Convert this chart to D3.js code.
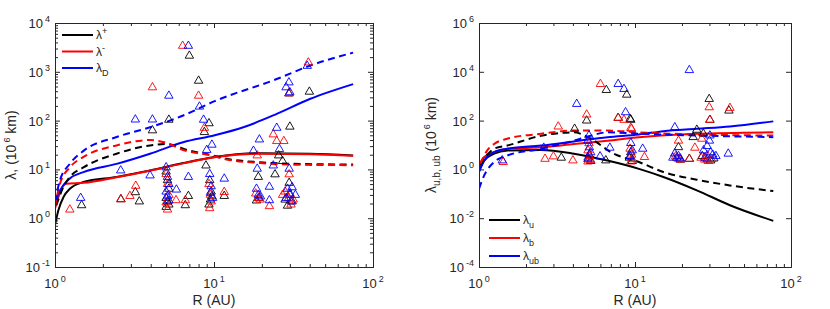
<!DOCTYPE html>
<meta charset="utf-8">
<script src="https://d3js.org/d3.v7.min.js"></script>
<style>
  body { margin: 0; background: #fff; }
  svg { font-family: "Liberation Sans", Arial, sans-serif; }
</style>
<div id="chart"></div>
<script>

// ---- left panel curves: [R (AU), lambda (10^6 km)]
const lamPlus = [[1,0.72],[1.05,1.46],[1.13,2.7],[1.24,4.0],[1.51,5.5],[2.44,7.0],[3.96,9.5],[6.4,13.5],[10.1,18],[19.5,21.5],[40,21],[75,19.3]];
const lamMinus = [[1,1.57],[1.075,3.4],[1.18,5.1],[1.51,5.3],[2.44,6.9],[3.96,9.4],[6.4,13.3],[10.1,17.8],[19.5,21],[40,20.5],[75,19]];
const lamD = [[1,2.0],[1.075,3.7],[1.24,6.5],[1.51,8.8],[2.44,13],[3.96,21],[6.4,36],[10.1,50],[15.3,73],[24.8,137],[40,277],[75,560]];
const lamPlusDash = [[1.02,1.84],[1.13,4.4],[1.24,7],[1.51,11],[2.44,21],[3.96,31],[5.0,33],[7.1,24],[9.4,20],[12,16.5],[19.5,14],[31.5,13],[75,12.6]];
const lamMinusDash = [[1,1.7],[1.075,5.1],[1.24,11],[1.51,18],[2.44,31],[3.96,40],[5.0,35],[6.4,25],[9.4,19.5],[12,16],[19.5,13.5],[31.5,12.5],[75,12.2]];
const lamDDash = [[1,2.15],[1.075,6],[1.24,13],[1.51,24],[2.44,46],[3.96,73],[6.4,127],[10.1,250],[24.8,710],[40,1330],[75,2470]];

// ---- right panel curves
const lamU = [[1,0.9],[1.08,2.3],[1.25,4.4],[1.52,6],[2.5,6.3],[4.06,4.4],[6.65,2.3],[10.6,1.05],[15.2,0.49],[24.9,0.139],[40.6,0.034],[77,0.0078]];
const lamB = [[1,1.46],[1.08,3.2],[1.25,5.1],[1.52,7],[2.5,8.1],[4.06,11],[6.65,15],[10.6,21],[24.9,29],[77,33]];
const lamUB = [[1,0.78],[1.08,2.3],[1.25,5.1],[1.52,7],[2.5,9.5],[4.06,14],[6.65,21],[10.6,27],[15.2,37],[24.9,46],[40.6,57],[77,93]];
const lamUDash = [[1.02,1.5],[1.13,4],[1.25,7],[1.52,9.5],[2.5,24],[4.06,33],[5.2,18],[7.3,4.4],[10.6,2.0],[15.2,0.78],[24.9,0.38],[40.6,0.22],[77,0.13]];
const lamBDash = [[1.02,1.7],[1.13,6],[1.25,11],[1.52,18],[2.5,29],[4.06,39],[6.65,39],[10.6,33],[24.9,27],[77,24.5]];
const lamUBDash = [[1,0.16],[1.08,0.57],[1.25,2],[1.52,3.7],[2.5,7],[4.06,15],[5.2,24],[6.65,33],[10.6,29],[24.9,24.5],[77,21]];

// ---- triangle markers, left panel
const leftBlack = [[7.0,2130],[8.0,655],[5.2,104],[4.1,63],[9.3,88],[8.7,58],[8.9,12],[1.47,1.84],[2.6,2.44],[3.2,3.4],[3.39,2.2],[6.9,2.85],[6.6,1.84],
  [5.0,9],[5.1,6],[5.2,4],[5.0,2.6],[5.1,2.2],[5.2,1.9],[5.0,1.7],[9.4,6],[9.6,3.5],[9.5,2.4],[9.3,1.9],[9.7,2.8],
  [29.6,360],[39.8,390],[30,75],[25.5,19.3],[27,14.8],[24.2,7.9],[19,7],[11.6,2.85],[29.7,5.3],[18.5,2.3],[19.2,2.6],[28,2.4],[30,3],[31,2.2],[29,1.8]];
const leftRed = [[6.35,3400],[4.1,480],[8.0,323],[8.7,71],[1.24,1.5],[2.59,2.44],[2.96,2.85],[3.22,4.6],[5.77,2.33],[6.6,2.33],
  [39.2,1550],[29.6,360],[23.6,52],[24.8,38],[27.5,38],[18.7,19.3],[29.7,7.9],[11.6,3.44],[22.3,1.76],
  [5.0,8],[5.1,5],[5.2,3],[5.0,2.1],[5.1,1.5],[9.3,5],[9.5,3],[9.6,2.2],[9.4,1.6],[18.3,3.2],[19,2.6],[19.5,2.4],
  [28,3.5],[29.5,2.6],[30.5,1.9],[31.5,2.4],[27,3]];
const leftBlue = [[6.9,3400],[5.2,323],[8.1,193],[3.2,105],[4.1,105],[8.6,104],[9.7,32],[9.0,25],[2.59,9.5],[3.96,7.5],[6.9,7.0],[1.45,2.6],[5.8,3.85],
  [38.6,1320],[29.6,605],[28.4,480],[30,380],[24.8,71],[19.3,41],[17.7,24],[25.8,26],[23.6,12],[29.7,10.3],[18.7,10.3],[11.6,6.45],[22.3,4.4],[22.3,2.33],
  [5.0,11],[5.1,7],[5.2,5],[5.0,3.5],[5.1,2.8],[5.2,2.3],[9.4,8],[9.6,4.5],[9.5,3.3],[9.8,2.6],[18.5,4],[19,3],[19.6,2.8],
  [29,4],[30,3.2],[31,4.3],[32.5,3],[28.5,2.6],[30.5,2.2]];

// ---- triangle markers, right panel
const rightBlack = [[6.55,1790],[8.85,1150],[4.9,100],[7.8,129],[9.4,107],[4.1,46],[3.37,3.0],[6.5,2.33],[29.9,767],[40,256],[30.2,107],[9.3,117],
  [24.9,42],[27.4,29],[23.6,21],[19,8.1],[5.1,4],[5.0,2.6],[5.2,2.2],[9.4,5],[9.2,3],[9.6,2.2],[18.5,3],[19.5,2.5],[22.3,2.7],
  [27,3.5],[29,2.6],[30.5,2.3],[32,2.8]];
const rightRed = [[6.0,3150],[4.9,176],[7.8,129],[8.5,107],[3.22,57],[9.4,50],[5.07,11.8],[2.65,2.7],[3.0,3.4],[4.0,2.33],[1.43,2.0],
  [29.9,350],[40.6,330],[30.2,107],[9.5,46],[26.8,18],[24.2,7.7],[19,15],[11.5,3.2],[22.3,2.7],
  [5.0,6],[5.1,3.5],[5.2,2.4],[5.0,2.1],[9.3,7],[9.5,4],[9.6,2.6],[9.4,2.1],[18.2,3.4],[19,2.7],[19.6,2.5],
  [26.5,3],[28,2.5],[29.5,2.2],[31,2.6],[29,3.8]];
const rightBlue = [[7.8,3150],[8.5,1970],[4.23,480],[8.7,219],[5.07,24.5],[6.9,7.7],[2.6,7.7],[1.41,2.33],[5.97,3.4],
  [22.3,11700],[18,53],[30.2,24.5],[11.2,7],[39.6,4.4],[5.0,15],[5.1,8],[5.2,5],[5.0,3],[9.4,12],[9.6,6],[9.3,3.5],
  [18,4.5],[19,3.5],[19.5,2.8],[17.5,3],[27.5,6],[29,9],[30,15],[30.5,5],[31.5,4],[33,3.5],[28,3]];

const xMajors = [0, 1, 2];
const leftYMajors = [-1, 0, 1, 2, 3, 4];
const rightYMajors = [-4, -2, 0, 2, 4, 6];

const svg = d3.select("#chart").append("svg")
    .attr("width", 830)
    .attr("height", 309);

function minorTicks(lo, hi) {
  const out = [];
  for (let e = lo; e < hi; e++)
    for (let k = 2; k <= 9; k++) out.push(k * Math.pow(10, e));
  return out;
}

function pow10(text, e) {
  text.append("tspan").text("10");
  text.append("tspan").attr("dx", 2).attr("dy", -6).attr("font-size", 9).text(e);
}

function drawPanel(cfg) {
  const w = cfg.x1 - cfg.x0, h = cfg.y1 - cfg.y0;
  const g = svg.append("g").attr("transform", `translate(${cfg.x0},${cfg.y0})`);

  const x = d3.scaleLog().domain([1, 100]).range([0, w]);
  const y = d3.scaleLog().domain(cfg.yDomain).range([h, 0]);

  const clipId = "clip" + cfg.id;
  g.append("clipPath").attr("id", clipId)
    .append("rect").attr("width", w).attr("height", h);

  // curves
  const line = d3.line()
      .x(d => x(d[0]))
      .y(d => y(d[1]))
      .curve(d3.curveMonotoneX);
  const plot = g.append("g").attr("clip-path", `url(#${clipId})`);
  cfg.curves.forEach(c => {
    plot.append("path")
      .attr("d", line(c.data))
      .attr("fill", "none")
      .attr("stroke", c.color)
      .attr("stroke-width", 2)
      .attr("stroke-dasharray", c.dash ? "7,4.5" : null);
  });

  // markers
  const tri = d3.symbol().type(d3.symbolTriangle).size(31);
  cfg.marks.forEach(m => {
    plot.selectAll(null)
      .data(m.data)
      .enter()
      .append("path")
      .attr("d", tri)
      .attr("transform", d => `translate(${x(d[0])},${y(d[1])})`)
      .attr("fill", "none")
      .attr("stroke", m.color)
      .attr("stroke-width", 0.9);
  });

  // axes: inward ticks on all four sides
  const axisColor = "#262626";
  const xMaj = xMajors.map(e => Math.pow(10, e));
  const xMin = minorTicks(0, 2);
  const yMaj = cfg.yMajors.map(e => Math.pow(10, e));
  const yMin = cfg.yMinor ? minorTicks(cfg.yMajors[0], cfg.yMajors[cfg.yMajors.length - 1]) : [];

  const addAxis = (axis, tr) => {
    const a = g.append("g").attr("transform", tr).call(axis);
    a.select(".domain").attr("stroke", axisColor);
    a.selectAll(".tick line").attr("stroke", axisColor);
  };
  [[d3.axisBottom, `translate(0,${h})`], [d3.axisTop, "translate(0,0)"]].forEach(([ax, tr]) => {
    addAxis(ax(x).tickValues(xMaj).tickSize(-5).tickSizeOuter(0).tickFormat(""), tr);
    addAxis(ax(x).tickValues(xMin).tickSize(-3).tickSizeOuter(0).tickFormat(""), tr);
  });
  [[d3.axisLeft, "translate(0,0)"], [d3.axisRight, `translate(${w},0)`]].forEach(([ax, tr]) => {
    addAxis(ax(y).tickValues(yMaj).tickSize(-5).tickSizeOuter(0).tickFormat(""), tr);
    if (yMin.length)
      addAxis(ax(y).tickValues(yMin).tickSize(-3).tickSizeOuter(0).tickFormat(""), tr);
  });

  // tick labels
  xMajors.forEach(e => {
    g.append("text")
      .attr("x", x(Math.pow(10, e)))
      .attr("y", h + 21)
      .attr("text-anchor", "middle")
      .attr("font-size", 13)
      .attr("fill", "#262626")
      .call(pow10, e);
  });
  cfg.yMajors.forEach(e => {
    g.append("text")
      .attr("x", -5)
      .attr("y", y(Math.pow(10, e)) + 5)
      .attr("text-anchor", "end")
      .attr("font-size", 13)
      .attr("fill", "#262626")
      .call(pow10, e);
  });

  // x label
  g.append("text")
    .attr("x", w / 2)
    .attr("y", h + 38)
    .attr("text-anchor", "middle")
    .attr("font-size", 14)
    .attr("fill", "#262626")
    .text("R (AU)");

  // y label
  const yl = svg.append("text")
    .attr("transform", `translate(${cfg.ylabelX},${cfg.y0 + h / 2}) rotate(-90)`)
    .attr("text-anchor", "middle")
    .attr("font-size", 14)
    .attr("fill", "#262626");
  cfg.ylabel(yl);

  // legend
  cfg.legend.forEach((l, i) => {
    const ly = cfg.legY + i * cfg.legStep;
    g.append("line")
      .attr("x1", cfg.legX).attr("x2", cfg.legX + 31)
      .attr("y1", ly).attr("y2", ly)
      .attr("stroke", l.color).attr("stroke-width", 2);
    const t = g.append("text")
      .attr("x", cfg.legX + 34)
      .attr("y", ly + 4)
      .attr("font-size", 12)
      .attr("fill", "#262626");
    t.append("tspan").text("λ");
    t.append("tspan").attr("font-size", 9).attr("dy", l.sup ? -5 : 4).text(l.sub || l.sup);
  });
}

drawPanel({
  id: "L", x0: 55, x1: 373, y0: 23, y1: 267,
  yDomain: [0.1, 1e4], yMajors: leftYMajors, yMinor: true,
  curves: [
    {data: lamPlus, color: "#000"}, {data: lamMinus, color: "#f00"}, {data: lamD, color: "#00f"},
    {data: lamPlusDash, color: "#000", dash: true}, {data: lamMinusDash, color: "#f00", dash: true},
    {data: lamDDash, color: "#00f", dash: true}
  ],
  marks: [{data: leftBlack, color: "#000"}, {data: leftRed, color: "#f00"}, {data: leftBlue, color: "#00f"}],
  legX: 7, legY: 12, legStep: 16.5,
  legend: [{color: "#000", sup: "+"}, {color: "#f00", sup: "-"}, {color: "#00f", sub: "D"}],
  ylabelX: 16,
  ylabel: t => {
    t.append("tspan").text("λ, (10");
    t.append("tspan").attr("dx", 2).attr("dy", -6).attr("font-size", 9).text("6");
    t.append("tspan").attr("dy", 6).text(" km)");
  }
});

drawPanel({
  id: "R", x0: 479, x1: 791, y0: 23, y1: 267,
  yDomain: [1e-4, 1e6], yMajors: rightYMajors, yMinor: false,
  curves: [
    {data: lamU, color: "#000"}, {data: lamB, color: "#f00"}, {data: lamUB, color: "#00f"},
    {data: lamUDash, color: "#000", dash: true}, {data: lamBDash, color: "#f00", dash: true},
    {data: lamUBDash, color: "#00f", dash: true}
  ],
  marks: [{data: rightBlack, color: "#000"}, {data: rightRed, color: "#f00"}, {data: rightBlue, color: "#00f"}],
  legX: 10, legY: 197, legStep: 18,
  legend: [{color: "#000", sub: "u"}, {color: "#f00", sub: "b"}, {color: "#00f", sub: "ub"}],
  ylabelX: 436,
  ylabel: t => {
    t.append("tspan").text("λ");
    t.append("tspan").attr("dy", 4).attr("font-size", 10).text("u,b, ub");
    t.append("tspan").attr("dy", -4).text(" (10");
    t.append("tspan").attr("dx", 2).attr("dy", -6).attr("font-size", 9).text("6");
    t.append("tspan").attr("dy", 6).text(" km)");
  }
});

</script>
